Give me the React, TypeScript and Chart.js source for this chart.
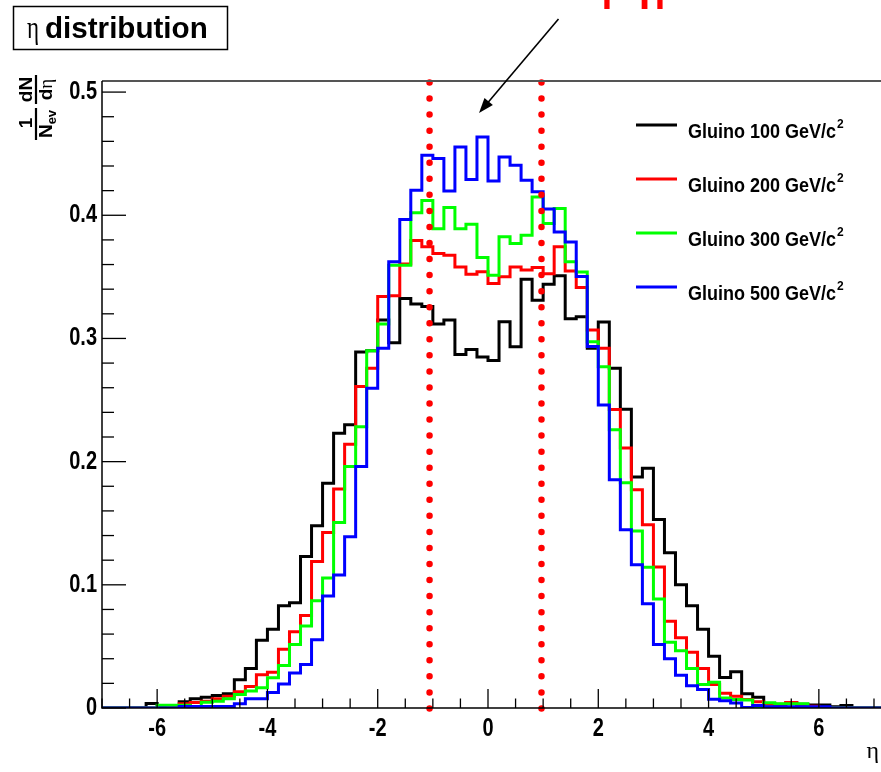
import { useEffect, useRef } from 'react';
import { Chart, registerables } from 'chart.js';

Chart.register(...registerables);

// ---- Histogram binning (eta from -7 to 7, 70 bins of 0.2) ----
const BIN_MIN = -7;
const BIN_WIDTH = 0.2;
const X_MIN = -7;
const X_MAX = 7.127;
const Y_MIN = 0;
const Y_MAX = 0.509;

// ---- Series values (normalised counts per bin) ----
const gluino100 = [
  0, 0, 0, 0, 0.0036, 0.001, 0.002, 0.005, 0.0075, 0.0088,
  0.0101, 0.0115, 0.023, 0.032, 0.055, 0.064, 0.083, 0.0855, 0.123, 0.148,
  0.1825, 0.223, 0.23, 0.289, 0.29, 0.315, 0.2965, 0.3325, 0.328, 0.326,
  0.3117, 0.315, 0.287, 0.291, 0.285, 0.282, 0.3135, 0.2933, 0.348, 0.331,
  0.344, 0.351, 0.316, 0.3176, 0.292, 0.3133, 0.2758, 0.2425, 0.1875, 0.1947,
  0.153, 0.126, 0.1001, 0.083, 0.064, 0.042, 0.0248, 0.0295, 0.0115, 0.0088,
  0.0032, 0.002, 0.004, 0.003, 0.0025, 0.0025, 0.001, 0.002, 0, 0,
];
const gluino200 = [
  0, 0, 0, 0, 0, 0, 0.002, 0.0035, 0.0045, 0.0055,
  0.0075, 0.0096, 0.0131, 0.0175, 0.027, 0.029, 0.0477, 0.062, 0.075, 0.119,
  0.1425, 0.1777, 0.2142, 0.261, 0.2758, 0.334, 0.3347, 0.3605, 0.3795, 0.3744,
  0.369, 0.3676, 0.3581, 0.3522, 0.3541, 0.3447, 0.35, 0.3581, 0.3555, 0.3575,
  0.3525, 0.3744, 0.3548, 0.3413, 0.3068, 0.292, 0.2423, 0.211, 0.1771, 0.1488,
  0.1145, 0.0704, 0.057, 0.0453, 0.032, 0.019, 0.012, 0.0095, 0.007, 0.005,
  0.0035, 0.003, 0.0045, 0.002, 0.0015, 0, 0, 0, 0, 0,
];
const gluino300 = [
  0, 0, 0, 0, 0, 0.0023, 0.0023, 0.0023, 0, 0.0047,
  0.0055, 0.0075, 0.011, 0.0137, 0.0164, 0.0245, 0.0345, 0.0515, 0.0665, 0.087,
  0.1055, 0.1506, 0.196, 0.2284, 0.29, 0.3117, 0.3595, 0.3595, 0.402, 0.412,
  0.389, 0.4063, 0.389, 0.3928, 0.3657, 0.3514, 0.3825, 0.377, 0.3838, 0.4149,
  0.3933, 0.4055, 0.3622, 0.354, 0.2973, 0.277, 0.2258, 0.1828, 0.1437, 0.1142,
  0.0885, 0.0534, 0.0465, 0.032, 0.019, 0.021, 0.0082, 0.0069, 0.0065, 0,
  0.0042, 0.0035, 0.0035, 0.0035, 0, 0, 0, 0, 0, 0,
];
const gluino500 = [
  0, 0, 0, 0, 0, 0, 0, 0.0012, 0.0012, 0.0012,
  0.0012, 0.0012, 0.0035, 0.0075, 0.0075, 0.0125, 0.0195, 0.0285, 0.0353, 0.0555,
  0.091, 0.108, 0.139, 0.196, 0.2596, 0.292, 0.3622, 0.3966, 0.4203, 0.4487,
  0.446, 0.4198, 0.4554, 0.429, 0.4635, 0.4279, 0.4473, 0.4406, 0.4284, 0.419,
  0.405, 0.3865, 0.3784, 0.3503, 0.2935, 0.246, 0.1852, 0.1447, 0.1163, 0.0847,
  0.0515, 0.0399, 0.0265, 0.018, 0.015, 0.0072, 0.0058, 0.004, 0.0005, 0.002,
  0.001, 0.001, 0.001, 0.001, 0.001, 0.001, 0, 0, 0, 0,
];

const seriesValues = [gluino100, gluino200, gluino300, gluino500];
const seriesLabels = ['Gluino 100 GeV/c²', 'Gluino 200 GeV/c²', 'Gluino 300 GeV/c²', 'Gluino 500 GeV/c²'];
const seriesColors = ['#000000', '#ff0000', '#00ff00', '#0000ff'];

// ---- Axis ticks ----
const xTickValues = [-6, -4, -2, 0, 2, 4, 6];
const xTickLabels = ['-6', '-4', '-2', '0', '2', '4', '6'];
const yTickValues = [0, 0.1, 0.2, 0.3, 0.4, 0.5];
const yTickLabels = ['0', '0.1', '0.2', '0.3', '0.4', '0.5'];
const X_MINOR_STEP = 0.5;
const Y_MINOR_STEP = 0.02;

// ---- Annotations ----
const titleText = 'distribution';
const etaCutLines = [-1.06, 0.97];

const SANS = '"Liberation Sans", Arial, sans-serif';
const SERIF = '"Liberation Serif", "DejaVu Serif", serif';

function buildPoints(values: number[]) {
  const pts: { x: number; y: number }[] = [];
  values.forEach((v, k) => pts.push({ x: BIN_MIN + k * BIN_WIDTH, y: v }));
  pts.push({ x: BIN_MIN + values.length * BIN_WIDTH, y: 0 });
  pts.push({ x: BIN_MIN + (values.length + 2) * BIN_WIDTH, y: 0 });
  return pts;
}

function drawText(
  ctx: CanvasRenderingContext2D,
  text: string,
  x: number,
  y: number,
  font: string,
  color: string,
  align: CanvasTextAlign,
  baseline: CanvasTextBaseline,
  sy = 1,
  sx = 1
) {
  ctx.save();
  ctx.translate(x, y);
  ctx.scale(sx, sy);
  ctx.font = font;
  ctx.fillStyle = color;
  ctx.textAlign = align;
  ctx.textBaseline = baseline;
  ctx.fillText(text, 0, 0);
  ctx.restore();
}

const rootStylePlugin = {
  id: 'rootStyle',
  afterDatasetsDraw(chart: any) {
    const ctx: CanvasRenderingContext2D = chart.ctx;
    const xs = chart.scales.x;
    const ys = chart.scales.y;
    const { left, right, top, bottom } = chart.chartArea;

    // dotted red |eta| cut lines
    ctx.save();
    ctx.strokeStyle = '#ff0000';
    ctx.lineWidth = 6.5;
    ctx.lineCap = 'round';
    ctx.setLineDash([0, 16.05]);
    etaCutLines.forEach((v) => {
      const px = xs.getPixelForValue(v);
      ctx.beginPath();
      ctx.moveTo(px, top + 1.5);
      ctx.lineTo(px, bottom + 2);
      ctx.stroke();
    });
    ctx.restore();

    // frame / axes
    ctx.save();
    ctx.lineWidth = 2;
    ctx.strokeStyle = '#555555';
    ctx.beginPath();
    ctx.moveTo(left, top);
    ctx.lineTo(right, top);
    ctx.stroke();
    ctx.strokeStyle = '#000000';
    ctx.lineWidth = 1.5;
    ctx.beginPath();
    ctx.moveTo(left, top);
    ctx.lineTo(left, bottom);
    ctx.lineTo(right, bottom);
    ctx.stroke();

    // x ticks (inside)
    ctx.lineWidth = 1.3;
    for (let v = X_MIN; v <= 7.0001; v += X_MINOR_STEP) {
      const px = xs.getPixelForValue(v);
      const major = xTickValues.some((t) => Math.abs(t - v) < 1e-6);
      const len = major ? 19 : 9.5;
      ctx.beginPath();
      ctx.moveTo(px, bottom);
      ctx.lineTo(px, bottom - len);
      ctx.stroke();
    }
    // y ticks (inside)
    for (let v = Y_MIN; v <= 0.5001; v += Y_MINOR_STEP) {
      const py = ys.getPixelForValue(v);
      const major = yTickValues.some((t) => Math.abs(t - v) < 1e-6);
      const len = major ? 24 : 12;
      ctx.beginPath();
      ctx.moveTo(left, py);
      ctx.lineTo(left + len, py);
      ctx.stroke();
    }
    ctx.restore();

    // tick labels
    const tickFont = `bold 20px ${SANS}`;
    xTickValues.forEach((v, i) => {
      drawText(ctx, xTickLabels[i], xs.getPixelForValue(v), bottom + 21, tickFont, '#000', 'center', 'middle', 1.25);
    });
    yTickValues.forEach((v, i) => {
      drawText(ctx, yTickLabels[i], left - 5, ys.getPixelForValue(v), tickFont, '#000', 'right', 'middle', 1.25);
    });

    // x axis title (eta)
    drawText(ctx, 'η', right - 2, bottom + 50, `24px ${SERIF}`, '#000', 'right', 'alphabetic');

    // y axis title: 1/N_ev dN/deta (rotated)
    ctx.save();
    ctx.translate(36, 141);
    ctx.rotate(-Math.PI / 2);
    ctx.fillStyle = '#000';
    ctx.strokeStyle = '#000';
    ctx.lineWidth = 2.2;
    ctx.beginPath();
    ctx.moveTo(1, 0);
    ctx.lineTo(33, 0);
    ctx.moveTo(37, 0);
    ctx.lineTo(66, 0);
    ctx.stroke();
    ctx.textBaseline = 'alphabetic';
    ctx.font = `bold 19px ${SANS}`;
    ctx.textAlign = 'center';
    ctx.fillText('1', 18, -4);
    ctx.fillText('dN', 51.5, -4);
    ctx.textAlign = 'left';
    const wN = ctx.measureText('N').width;
    ctx.font = `bold 13px ${SANS}`;
    const wEv = ctx.measureText('ev').width;
    const nStart = 17 - (wN + wEv) / 2;
    ctx.font = `bold 19px ${SANS}`;
    ctx.fillText('N', nStart, 16);
    ctx.font = `bold 13px ${SANS}`;
    ctx.fillText('ev', nStart + wN, 20);
    ctx.font = `bold 19px ${SANS}`;
    const wd = ctx.measureText('d').width;
    ctx.font = `19px ${SERIF}`;
    const weta = ctx.measureText('η').width;
    const dStart = 51.5 - (wd + weta) / 2;
    ctx.font = `bold 19px ${SANS}`;
    ctx.fillText('d', dStart, 16);
    ctx.font = `19px ${SERIF}`;
    ctx.fillText('η', dStart + wd, 16);
    ctx.restore();

    // title box
    ctx.save();
    ctx.fillStyle = '#ffffff';
    ctx.fillRect(13.5, 6.5, 214, 43);
    ctx.strokeStyle = '#000';
    ctx.lineWidth = 1.5;
    ctx.strokeRect(13.5, 6.5, 214, 43);
    ctx.restore();
    drawText(ctx, 'η', 27, 38, `32px ${SERIF}`, '#000', 'left', 'alphabetic', 1, 0.72);
    drawText(ctx, titleText, 45, 38.3, `bold 29.6px ${SANS}`, '#000', 'left', 'alphabetic');

    // legend (no border)
    const datasets = chart.data.datasets;
    datasets.forEach((ds: any, i: number) => {
      const rowY = 125 + i * 54;
      ctx.save();
      ctx.strokeStyle = ds.borderColor;
      ctx.lineWidth = 3;
      ctx.beginPath();
      ctx.moveTo(636, rowY);
      ctx.lineTo(677, rowY);
      ctx.stroke();
      ctx.restore();
      const label: string = ds.label;
      const hasSup = label.endsWith('²');
      const base = hasSup ? label.slice(0, -1) : label;
      const f = `bold 18px ${SANS}`;
      drawText(ctx, base, 688, rowY + 12.5, f, '#000', 'left', 'alphabetic', 1.12);
      if (hasSup) {
        ctx.font = f;
        const w = ctx.measureText(base).width;
        drawText(ctx, '2', 688 + w + 1, rowY + 3, `bold 12px ${SANS}`, '#000', 'left', 'alphabetic', 1.12);
      }
    });

    // arrow
    ctx.save();
    const ax0 = 558.5, ay0 = 19, ax1 = 479, ay1 = 113;
    const ang = Math.atan2(ay1 - ay0, ax1 - ax0);
    ctx.strokeStyle = '#000';
    ctx.fillStyle = '#000';
    ctx.lineWidth = 1.6;
    ctx.beginPath();
    ctx.moveTo(ax0, ay0);
    ctx.lineTo(ax1 - 8 * Math.cos(ang), ay1 - 8 * Math.sin(ang));
    ctx.stroke();
    ctx.beginPath();
    ctx.moveTo(ax1, ay1);
    ctx.lineTo(ax1 - 15 * Math.cos(ang) + 5.5 * Math.sin(ang), ay1 - 15 * Math.sin(ang) - 5.5 * Math.cos(ang));
    ctx.lineTo(ax1 - 15 * Math.cos(ang) - 5.5 * Math.sin(ang), ay1 - 15 * Math.sin(ang) + 5.5 * Math.cos(ang));
    ctx.closePath();
    ctx.fill();
    ctx.restore();

    // red |eta| annotation (mostly cut off at the top)
    drawText(ctx, '|η|', 598.5, -4.3, `65px ${SANS}`, '#ff0000', 'left', 'alphabetic');
  },
};

export default function App() {
  const canvasRef = useRef<HTMLCanvasElement | null>(null);

  useEffect(() => {
    const canvas = canvasRef.current;
    if (!canvas) return;
    const datasets = seriesValues.map((vals, i) => ({
      label: seriesLabels[i],
      data: buildPoints(vals),
      borderColor: seriesColors[i],
      backgroundColor: seriesColors[i],
      borderWidth: 3,
      pointRadius: 0,
      pointHoverRadius: 0,
      fill: false,
      stepped: 'before' as const,
      tension: 0,
      borderJoinStyle: 'miter' as const,
      order: seriesValues.length - 1 - i,
    }));

    const chart = new Chart(canvas, {
      type: 'line',
      data: { datasets },
      options: {
        animation: false,
        responsive: false,
        devicePixelRatio: 1,
        parsing: false,
        layout: { padding: { top: 81, right: 0, bottom: 0, left: 0 } },
        plugins: {
          legend: { display: false },
          tooltip: { enabled: false },
          title: { display: false },
        },
        events: [],
        scales: {
          x: {
            type: 'linear',
            min: X_MIN,
            max: X_MAX,
            grid: { display: false },
            border: { display: false },
            ticks: { display: false },
            afterFit: (s: any) => {
              s.height = 64;
            },
          },
          y: {
            type: 'linear',
            min: Y_MIN,
            max: Y_MAX,
            grid: { display: false },
            border: { display: false },
            ticks: { display: false },
            afterFit: (s: any) => {
              s.width = 102;
            },
          },
        },
      },
      plugins: [rootStylePlugin],
    });
    return () => chart.destroy();
  }, []);

  return (
    <div style={{ position: 'absolute', left: 0, top: 0, width: 881, height: 772, background: '#fff' }}>
      <canvas ref={canvasRef} width={881} height={772} style={{ display: 'block' }} />
    </div>
  );
}
